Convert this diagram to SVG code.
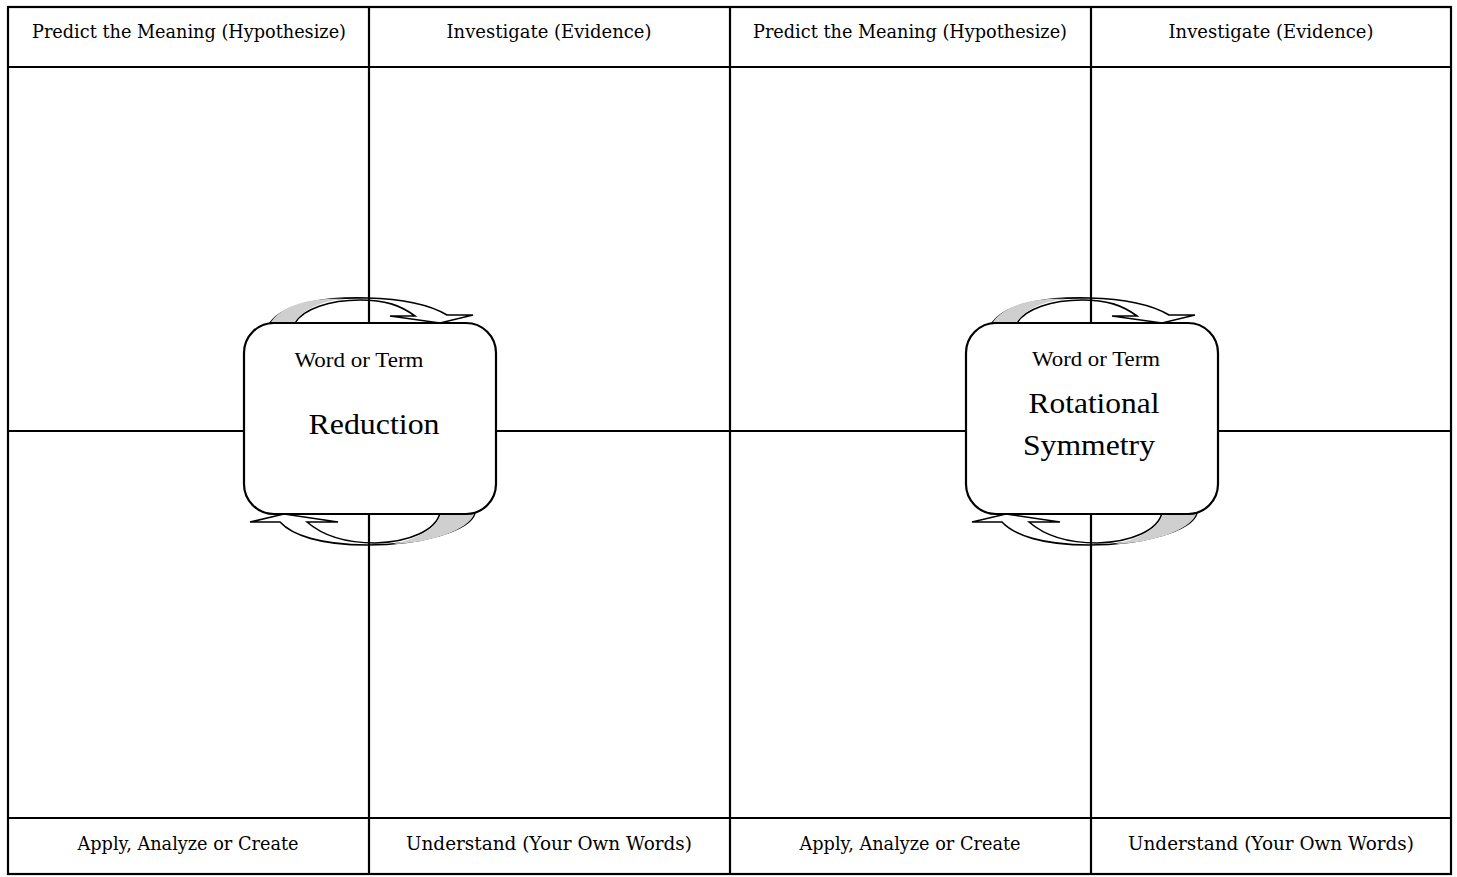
<svg xmlns="http://www.w3.org/2000/svg" width="1457" height="877" viewBox="0 0 1457 877">
<style>
.grid{stroke:#000;stroke-width:2.2;fill:none}
.lbl{font-family:"DejaVu Serif","Liberation Serif",serif;font-size:19px;fill:#000;text-anchor:middle}
.box{fill:#fff;stroke:#000;stroke-width:2.2}
.small{font-family:"Liberation Serif",serif;font-size:22px;fill:#000;text-anchor:middle}
.big{font-family:"Liberation Serif",serif;font-size:30px;fill:#000;text-anchor:middle}
.arr{fill:#fff;stroke:#000;stroke-width:1.6;stroke-linejoin:miter}
.shade{fill:#cfcfcf;stroke:none}
</style>
<defs>
<g id="cycle">
<path class="arr" d="M270,323 C285,302 330,297 367,298 C405,299 432,306 447,315 L473,315 L440,323 L390,316 L415,316 C400,305 385,300 360,300 C330,300 303,309 295,323 Z"/>
<path class="shade" d="M271,322 C285,302 318,298 345,299 C320,301 303,310 295,322 Z"/>
<path class="arr" d="M475,513 C470,531 420,545 367,545 C320,545 292,535 280,522 L250,522 L284,514 L338,522 L307,522 C322,535 345,543 375,543 C410,542 436,530 440,513 Z"/>
<path class="shade" d="M474,514 C469,530 430,543 393,544 C420,538 436,528 441,514 Z"/>
</g>
</defs>
<g id="connectors">
<use href="#cycle"/>
<use href="#cycle" x="722"/>
</g>
<g id="grid">
<rect class="grid" x="8" y="7" width="1443" height="867"/>
<line class="grid" x1="8" y1="67" x2="1451" y2="67"/>
<line class="grid" x1="8" y1="818" x2="1451" y2="818"/>
<line class="grid" x1="8" y1="431" x2="1451" y2="431"/>
<line class="grid" x1="369" y1="7" x2="369" y2="874"/>
<line class="grid" x1="730" y1="7" x2="730" y2="874"/>
<line class="grid" x1="1091" y1="7" x2="1091" y2="874"/>
</g>
<g id="headers">
<text class="lbl" x="189" y="38" textLength="314" lengthAdjust="spacingAndGlyphs">Predict the Meaning (Hypothesize)</text>
<text class="lbl" x="549" y="38" textLength="205" lengthAdjust="spacingAndGlyphs">Investigate (Evidence)</text>
<text class="lbl" x="910" y="38" textLength="314" lengthAdjust="spacingAndGlyphs">Predict the Meaning (Hypothesize)</text>
<text class="lbl" x="1271" y="38" textLength="205" lengthAdjust="spacingAndGlyphs">Investigate (Evidence)</text>
<text class="lbl" x="188" y="850" textLength="221" lengthAdjust="spacingAndGlyphs">Apply, Analyze or Create</text>
<text class="lbl" x="549" y="850" textLength="286" lengthAdjust="spacingAndGlyphs">Understand (Your Own Words)</text>
<text class="lbl" x="910" y="850" textLength="221" lengthAdjust="spacingAndGlyphs">Apply, Analyze or Create</text>
<text class="lbl" x="1271" y="850" textLength="286" lengthAdjust="spacingAndGlyphs">Understand (Your Own Words)</text>
</g>
<g id="term1">
<rect class="box" x="244" y="323" width="252" height="191" rx="30" ry="30"/>
<text class="small" x="359" y="367" textLength="129" lengthAdjust="spacingAndGlyphs">Word or Term</text>
<text class="big" x="374" y="434" textLength="131" lengthAdjust="spacingAndGlyphs">Reduction</text>
</g>
<g id="term2">
<rect class="box" x="966" y="323" width="252" height="191" rx="30" ry="30"/>
<text class="small" x="1096" y="366" textLength="128" lengthAdjust="spacingAndGlyphs">Word or Term</text>
<text class="big" x="1094" y="413" textLength="131" lengthAdjust="spacingAndGlyphs">Rotational</text>
<text class="big" x="1089" y="455" textLength="132" lengthAdjust="spacingAndGlyphs">Symmetry</text>
</g>
</svg>
